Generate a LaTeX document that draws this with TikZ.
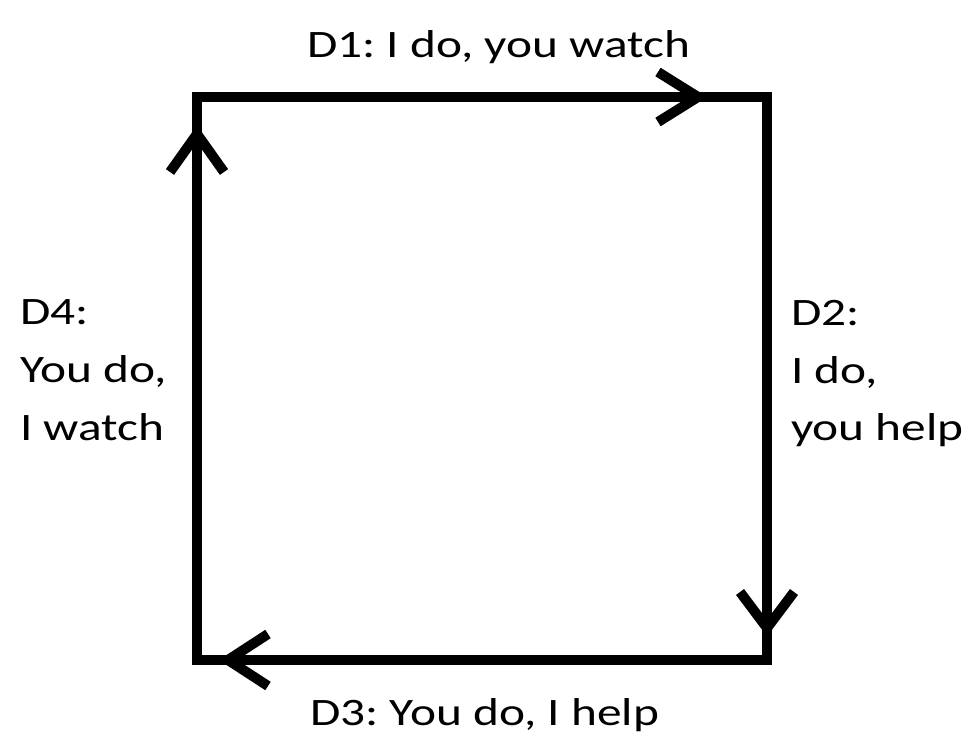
\documentclass[tikz,border=0pt]{standalone}
\usepackage{fontspec}
\setmainfont{Carlito}[FakeStretch=1.27]
\frenchspacing
\usetikzlibrary{positioning}

\begin{document}
\begin{tikzpicture}[x=1bp,y=-1bp,line width=10bp,
    lbl/.style={inner sep=0pt,font=\fontsize{39}{58}\selectfont},
    chev/.style={line cap=butt,line join=miter}]
      \useasboundingbox (0,0) rectangle (974,750);
      \coordinate (tl) at (197,97);
      \coordinate (tr) at (767,97);
      \coordinate (br) at (767,660);
      \coordinate (bl) at (197,660);

      \draw[line join=miter] (tl) -- (tr) -- (br) -- (bl) -- cycle;

      % chevrons
      \draw[chev] (658,72) -- (698,97) -- (658,122);
      \draw[chev] (740,592) -- (767,628) -- (794,592);
      \draw[chev] (268,634) -- (228,660) -- (268,686);
      \draw[chev] (170,172) -- (197,134) -- (224,172);

      \node[lbl,anchor=base west] (d1) at (302,58) {D1: I do, you watch};
      \node[lbl,anchor=base west] (d3) at (305,725) {D3: You do, I help};
      \node[lbl,anchor=north west,align=left] (d2) at (786,295) {D2:\\I do,\\you help};
      \node[lbl,anchor=north west,align=left] (d4) at (15,295) {D4:\\You do,\\I watch};
    \end{tikzpicture}
\end{document}
